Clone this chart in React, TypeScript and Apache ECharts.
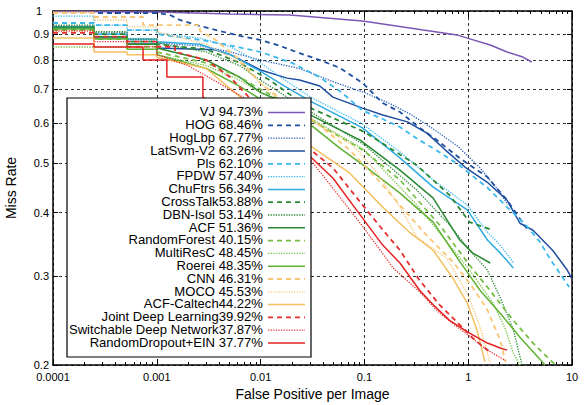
import React, { useEffect, useRef } from "react";
import * as echarts from "echarts";

// ---------- axes ----------
const X_TICKS = [0.0001, 0.001, 0.01, 0.1, 1, 10];
const X_TICK_LABELS = ["0.0001", "0.001", "0.01", "0.1", "1", "10"];
const Y_TICKS = [0.2, 0.3, 0.4, 0.5, 0.6, 0.7, 0.8, 0.9, 1];
const Y_TICK_LABELS = ["0.2", "0.3", "0.4", "0.5", "0.6", "0.7", "0.8", "0.9", "1"];

// ---------- legend ----------
const METHODS = [
  "VJ", "HOG", "HogLbp", "LatSvm-V2", "Pls", "FPDW", "ChuFtrs", "CrossTalk", "DBN-Isol", "ACF",
  "RandomForest", "MultiResC", "Roerei", "CNN", "MOCO", "ACF-Caltech", "Joint Deep Learning",
  "Switchable Deep Network", "RandomDropout+EIN",
];
const LEGEND_LABELS = [
  "VJ 94.73%", "HOG 68.46%", "HogLbp 67.77%", "LatSvm-V2 63.26%", "Pls 62.10%", "FPDW 57.40%",
  "ChuFtrs 56.34%", "CrossTalk53.88%", "DBN-Isol 53.14%", "ACF 51.36%", "RandomForest 40.15%",
  "MultiResC 48.45%", "Roerei 48.35%", "CNN 46.31%", "MOCO 45.53%", "ACF-Caltech44.22%",
  "Joint Deep Learning39.92%", "Switchable Deep Network37.87%", "RandomDropout+EIN 37.77%",
];

// ---------- curves: [false positives per image, miss rate] ----------
const vj = [[1e-4,0.998],[1e-3,0.995],[5.1e-3,0.986],[0.0192,0.982],[0.096,0.956],[0.37,0.917],[0.78,0.897],[0.98,0.884],[1.63,0.857],[2.37,0.83],[3.36,0.811],[4.1,0.793]];
const hog = [[1e-4,0.991],[1e-3,0.991],[1.34e-3,0.982],[1.67e-3,0.96],[2.6e-3,0.934],[4.06e-3,0.913],[6.3e-3,0.893],[0.0099,0.877],[0.0154,0.853],[0.0237,0.826],[0.0372,0.8],[0.058,0.772],[0.096,0.721],[0.15,0.658],[0.22,0.632],[0.34,0.588],[0.5,0.556],[0.83,0.512],[1.53,0.47],[2.37,0.423],[2.96,0.396],[3.67,0.372]];
const hogLbp = [[1e-4,0.934],[2.48e-4,0.934],[2.48e-4,0.905],[5.17e-4,0.905],[5.17e-4,0.877],[1e-3,0.877],[1e-3,0.865],[2.6e-3,0.853],[5.1e-3,0.83],[0.01,0.8],[0.0237,0.77],[0.05,0.725],[0.1,0.69],[0.18,0.655],[0.28,0.625],[0.46,0.585],[0.8,0.54],[1.3,0.49],[2.0,0.44],[2.4,0.415]];
const latSvm = [[1e-4,0.926],[2.48e-4,0.926],[2.48e-4,0.884],[5.17e-4,0.884],[5.17e-4,0.861],[1e-3,0.861],[1e-3,0.845],[3.63e-3,0.838],[5.1e-3,0.82],[0.01,0.765],[0.018,0.737],[0.0237,0.731],[0.0372,0.711],[0.0497,0.676],[0.096,0.643],[0.15,0.623],[0.26,0.604],[0.4,0.574],[0.6,0.532],[0.93,0.492],[1.53,0.459],[2.37,0.423],[3.15,0.381],[4.21,0.369],[6.5,0.337],[9.0,0.308],[10,0.296]];
const pls = [[1e-4,0.947],[2.48e-4,0.947],[2.48e-4,0.938],[5.17e-4,0.938],[5.17e-4,0.917],[1e-3,0.917],[1e-3,0.9],[2.6e-3,0.877],[4.5e-3,0.86],[0.01,0.83],[0.02,0.79],[0.037,0.74],[0.058,0.695],[0.096,0.636],[0.15,0.612],[0.22,0.59],[0.32,0.56],[0.5,0.53],[0.8,0.498],[1.2,0.466],[1.53,0.448],[2.37,0.41],[3.67,0.376],[4.9,0.35],[6.2,0.323],[9.4,0.285]];
const fpdw = [[1e-4,0.977],[2.48e-4,0.977],[2.48e-4,0.938],[5.17e-4,0.938],[5.17e-4,0.917],[1e-3,0.917],[1e-3,0.905],[2.6e-3,0.884],[5.1e-3,0.85],[0.01,0.79],[0.0172,0.73],[0.0304,0.676],[0.096,0.598],[0.22,0.527],[0.46,0.464],[0.98,0.414],[1.53,0.366],[2.03,0.345],[2.72,0.319]];
const chuFtrs = [[1e-4,0.93],[2.48e-4,0.93],[2.48e-4,0.9],[5.17e-4,0.9],[5.17e-4,0.88],[1e-3,0.88],[1e-3,0.87],[2.6e-3,0.86],[5.1e-3,0.82],[0.01,0.76],[0.0172,0.71],[0.0304,0.663],[0.096,0.588],[0.22,0.513],[0.46,0.449],[0.98,0.405],[1.53,0.353],[2.03,0.333],[2.72,0.311]];
const crossTalk = [[1e-4,0.921],[2.48e-4,0.921],[2.48e-4,0.9],[5.17e-4,0.9],[5.17e-4,0.87],[1e-3,0.87],[1e-3,0.86],[3e-3,0.84],[6.3e-3,0.79],[0.0123,0.73],[0.0214,0.673],[0.0304,0.643],[0.1,0.577],[0.32,0.496],[0.66,0.433],[1.03,0.383],[1.74,0.369]];
const dbnIsol = [[1e-4,0.938],[2.48e-4,0.938],[2.48e-4,0.91],[5.17e-4,0.91],[5.17e-4,0.88],[1e-3,0.88],[1e-3,0.865],[3e-3,0.83],[6.3e-3,0.78],[0.01,0.73],[0.0172,0.68],[0.0304,0.632],[0.1,0.544],[0.32,0.443],[0.66,0.378],[1.03,0.337],[1.53,0.308],[2.03,0.272],[2.72,0.235],[3.3,0.2]];
const acf = [[1e-4,0.93],[2.48e-4,0.93],[2.48e-4,0.89],[5.17e-4,0.89],[5.17e-4,0.86],[1e-3,0.86],[1e-3,0.845],[3e-3,0.8],[6.3e-3,0.74],[0.01,0.69],[0.0172,0.66],[0.0304,0.623],[0.091,0.556],[0.22,0.485],[0.46,0.427],[0.83,0.353],[1.1,0.333],[1.63,0.318]];
const randomForest = [[1e-4,0.917],[2.48e-4,0.917],[2.48e-4,0.88],[5.17e-4,0.88],[5.17e-4,0.85],[1e-3,0.85],[1e-3,0.83],[3e-3,0.79],[6.3e-3,0.74],[0.01,0.7],[0.0172,0.66],[0.0304,0.609],[0.096,0.532],[0.22,0.464],[0.53,0.378],[1.03,0.315],[1.53,0.285],[2.72,0.245],[4.21,0.221],[6.9,0.2]];
const multiResC = [[1e-4,0.849],[5.17e-4,0.849],[5.17e-4,0.84],[1e-3,0.84],[1e-3,0.82],[3e-3,0.78],[6.3e-3,0.73],[0.01,0.69],[0.0172,0.65],[0.0304,0.614],[0.1,0.532],[0.32,0.414],[0.66,0.345],[1.03,0.308],[1.74,0.265],[2.29,0.235],[2.72,0.211],[3.15,0.2]];
const roerei = [[1e-4,0.921],[2.48e-4,0.921],[2.48e-4,0.88],[5.17e-4,0.88],[5.17e-4,0.84],[1e-3,0.84],[1e-3,0.82],[3e-3,0.77],[6.3e-3,0.71],[0.01,0.67],[0.0172,0.64],[0.0304,0.596],[0.058,0.536],[0.106,0.49],[0.22,0.437],[0.46,0.383],[0.83,0.32],[1.3,0.281],[2.03,0.253],[3.15,0.227],[5.5,0.2]];
const cnn = [[1e-4,0.991],[2.48e-4,0.991],[2.48e-4,0.973],[7.37e-4,0.973],[7.37e-4,0.938],[2.6e-3,0.938],[2.6e-3,0.913],[3.6e-3,0.88],[6.3e-3,0.8],[0.01,0.72],[0.0172,0.66],[0.0304,0.614],[0.072,0.532],[0.142,0.459],[0.22,0.414],[0.4,0.36],[0.71,0.32],[1.1,0.285],[1.53,0.257],[2.03,0.224],[2.29,0.203]];
const moco = [[1e-4,0.995],[2.48e-4,0.995],[2.48e-4,0.96],[5.17e-4,0.96],[5.17e-4,0.93],[1e-3,0.93],[1e-3,0.91],[3e-3,0.86],[6.3e-3,0.79],[0.01,0.72],[0.0172,0.65],[0.0304,0.609],[0.077,0.544],[0.133,0.479],[0.22,0.41],[0.32,0.358],[0.62,0.325],[0.98,0.277],[1.3,0.238],[1.63,0.202]];
const acfCaltech = [[1e-4,0.884],[2.48e-4,0.884],[2.48e-4,0.83],[5.17e-4,0.83],[5.17e-4,0.82],[1e-3,0.82],[1e-3,0.81],[3e-3,0.77],[5.65e-3,0.69],[0.01,0.63],[0.0172,0.58],[0.0304,0.541],[0.072,0.479],[0.15,0.41],[0.275,0.365],[0.46,0.337],[0.71,0.297],[0.98,0.265],[1.21,0.235],[1.45,0.203]];
const jointDeep = [[1e-4,0.905],[2.48e-4,0.905],[2.48e-4,0.89],[5.17e-4,0.89],[5.17e-4,0.87],[1e-3,0.87],[1e-3,0.85],[1.5e-3,0.85],[1.5e-3,0.83],[3e-3,0.8],[5.1e-3,0.74],[7.9e-3,0.672],[0.01,0.64],[0.0172,0.58],[0.0304,0.532],[0.0497,0.49],[0.096,0.414],[0.142,0.375],[0.22,0.337],[0.34,0.294],[0.53,0.263],[0.83,0.24],[1.16,0.224],[1.63,0.212]];
const switchable = [[1e-4,0.913],[2.48e-4,0.913],[2.48e-4,0.87],[5.17e-4,0.87],[5.17e-4,0.85],[1e-3,0.85],[1e-3,0.82],[2e-3,0.78],[4e-3,0.72],[7.1e-3,0.672],[0.01,0.63],[0.0172,0.57],[0.0304,0.508],[0.096,0.376],[0.189,0.311],[0.34,0.279],[0.53,0.253],[1.0,0.229],[1.53,0.214],[2.29,0.204]];
const randomDropout = [[1e-4,0.861],[2.48e-4,0.861],[2.48e-4,0.849],[7.37e-4,0.849],[7.37e-4,0.8],[1.25e-3,0.8],[1.25e-3,0.741],[2.78e-3,0.741],[2.78e-3,0.676],[3.63e-3,0.652],[0.01,0.6],[0.0304,0.515],[0.0497,0.468],[0.096,0.39],[0.15,0.345],[0.22,0.318],[0.34,0.281],[0.46,0.263],[0.66,0.245],[1.0,0.232],[1.53,0.221],[2.03,0.216],[2.37,0.214]];

const CURVES = [vj, hog, hogLbp, latSvm, pls, fpdw, chuFtrs, crossTalk, dbnIsol, acf, randomForest, multiResC, roerei, cnn, moco, acfCaltech, jointDeep, switchable, randomDropout];

// ---------- styles ----------
const COLORS = [
  "#7d55b5", "#1f4fa0", "#2d62bd", "#1f4fa0", "#3cb9ec", "#3cb9ec", "#2faae2", "#2a8a34", "#2a8a34", "#2a8a34",
  "#76c043", "#76c043", "#5fb233", "#f8c675", "#f8c675", "#f5c062", "#e62e2e", "#e83838", "#e52222",
];
const KINDS = [
  "solid", "dashed", "dotted", "solid", "dashed", "dotted", "solid", "dashed", "dotted", "solid",
  "dashed", "dotted", "solid", "dashed", "dotted", "solid", "dashed", "dotted", "solid",
];

const FONT = "'Liberation Sans', Arial, Helvetica, sans-serif";

function dashOf(kind: string): number[] | "solid" {
  if (kind === "dashed") return [5, 4];
  if (kind === "dotted") return [1.3, 1.3];
  return "solid";
}
function widthOf(kind: string) {
  if (kind === "dashed") return 1.8;
  if (kind === "dotted") return 1.3;
  return 1.5;
}

export default function App() {
  const ref = useRef<HTMLDivElement>(null);
  useEffect(() => {
    if (!ref.current) return;
    const chart = echarts.init(ref.current, null, { renderer: "svg" });

    const xMinor: number[] = [];
    for (let e = -4; e < 1; e++) for (let m = 2; m <= 9; m++) xMinor.push(m * Math.pow(10, e));

    const xLabel = (v: number) => {
      const i = Math.round(Math.log10(v)) + 4;
      return X_TICK_LABELS[i] ?? "";
    };
    const yLabel = (v: number) => {
      let best = 0;
      for (let i = 0; i < Y_TICKS.length; i++) if (Math.abs(Y_TICKS[i] - v) < Math.abs(Y_TICKS[best] - v)) best = i;
      const t = Y_TICK_LABELS[best];
      return t === "1" ? "{one|1}" : t;
    };

    const frame = { show: true, onZero: false, lineStyle: { color: "#000", width: 1.5 } };
    const tickStyle = { color: "#000", width: 1 };

    const baseX = { type: "log", logBase: 10, min: 0.0001, max: 10, gridIndex: 0 };
    const baseY = { type: "log", logBase: 10, min: 0.2, max: 1, gridIndex: 0 };

    const LEG = { left: 67, top: 98, width: 244, height: 259, firstRow: 112.6, pitch: 12.8, textRight: 263, lineX1: 268, lineX2: 305 };

    const legendChildren: any[] = [
      {
        type: "rect",
        shape: { x: LEG.left, y: LEG.top, width: LEG.width, height: LEG.height },
        style: { fill: "#fff", stroke: "#000", lineWidth: 1.2 },
        z: 100,
      },
    ];
    METHODS.forEach((m, i) => {
      const y = LEG.firstRow + LEG.pitch * i;
      legendChildren.push({
        type: "text",
        x: LEG.textRight,
        y,
        scaleX: 1.09,
        style: {
          text: LEGEND_LABELS[i],
          align: "right",
          textAlign: "right",
          verticalAlign: "middle",
          textVerticalAlign: "middle",
          fontSize: 12,
          fontFamily: FONT,
          fill: "#000",
        },
        z: 101,
      });
      const d = dashOf(KINDS[i]);
      legendChildren.push({
        type: "line",
        shape: { x1: LEG.lineX1, y1: y, x2: LEG.lineX2, y2: y },
        style: { stroke: COLORS[i], lineWidth: widthOf(KINDS[i]), lineDash: d === "solid" ? null : d },
        z: 101,
      });
    });

    const option: any = {
      animation: false,
      backgroundColor: "#fff",
      textStyle: { fontFamily: FONT },
      grid: { left: 53, right: 15, top: 11, bottom: 40, containLabel: false, outerBoundsMode: "none" },
      xAxis: [
        {
          ...baseX,
          position: "bottom",
          name: "False Positive per Image",
          nameLocation: "middle",
          nameGap: 19,
          nameTextStyle: { fontSize: 14, color: "#000", fontFamily: FONT },
          axisLine: frame,
          axisTick: { show: true, inside: true, length: 6, customValues: X_TICKS, lineStyle: tickStyle },
          axisLabel: { customValues: X_TICKS, formatter: xLabel, margin: 6, fontSize: 11, color: "#000", fontFamily: FONT },
          splitLine: { show: true, lineStyle: { color: "#333", type: [3, 3], width: 1 } },
          minorTick: { show: false },
          minorSplitLine: { show: false },
        },
        {
          ...baseX,
          position: "bottom",
          axisLine: { show: false },
          axisTick: { show: true, inside: true, length: 3, customValues: xMinor, lineStyle: tickStyle },
          axisLabel: { show: false },
          splitLine: { show: false },
        },
        {
          ...baseX,
          position: "top",
          axisLine: frame,
          axisTick: { show: true, inside: true, length: 6, customValues: X_TICKS, lineStyle: tickStyle },
          axisLabel: { show: false },
          splitLine: { show: false },
        },
        {
          ...baseX,
          position: "top",
          axisLine: { show: false },
          axisTick: { show: true, inside: true, length: 3, customValues: xMinor, lineStyle: tickStyle },
          axisLabel: { show: false },
          splitLine: { show: false },
        },
      ],
      yAxis: [
        {
          ...baseY,
          position: "left",
          name: "Miss Rate",
          nameLocation: "middle",
          nameGap: 35,
          nameTextStyle: { fontSize: 14, color: "#000", fontFamily: FONT },
          axisLine: frame,
          axisTick: { show: true, inside: true, length: 5, customValues: Y_TICKS, lineStyle: tickStyle },
          axisLabel: {
            customValues: Y_TICKS,
            formatter: yLabel,
            margin: 4,
            fontSize: 11,
            color: "#000",
            fontFamily: FONT,
            rich: { one: { fontSize: 11, color: "#000", fontFamily: FONT, padding: [0, 7, 0, 0] } },
          },
          splitLine: { show: true, lineStyle: { color: "#333", type: [3, 3], width: 1 } },
          minorTick: { show: false },
        },
        {
          ...baseY,
          position: "right",
          axisLine: frame,
          axisTick: { show: true, inside: true, length: 5, customValues: Y_TICKS, lineStyle: tickStyle },
          axisLabel: { show: false },
          splitLine: { show: false },
        },
      ],
      series: METHODS.map((name, i) => ({
        type: "line",
        name,
        xAxisIndex: 0,
        yAxisIndex: 0,
        data: CURVES[i],
        symbol: "none",
        showSymbol: false,
        silent: true,
        clip: true,
        z: 3,
        lineStyle: { color: COLORS[i], width: widthOf(KINDS[i]), type: dashOf(KINDS[i]) },
        itemStyle: { color: COLORS[i] },
      })),
      graphic: [{ type: "group", z: 100, children: legendChildren }],
    };

    chart.setOption(option);
    return () => chart.dispose();
  }, []);

  return (
    <div
      ref={ref}
      style={{ position: "fixed", left: 0, top: 0, width: 587, height: 405, background: "#fff" }}
    />
  );
}
